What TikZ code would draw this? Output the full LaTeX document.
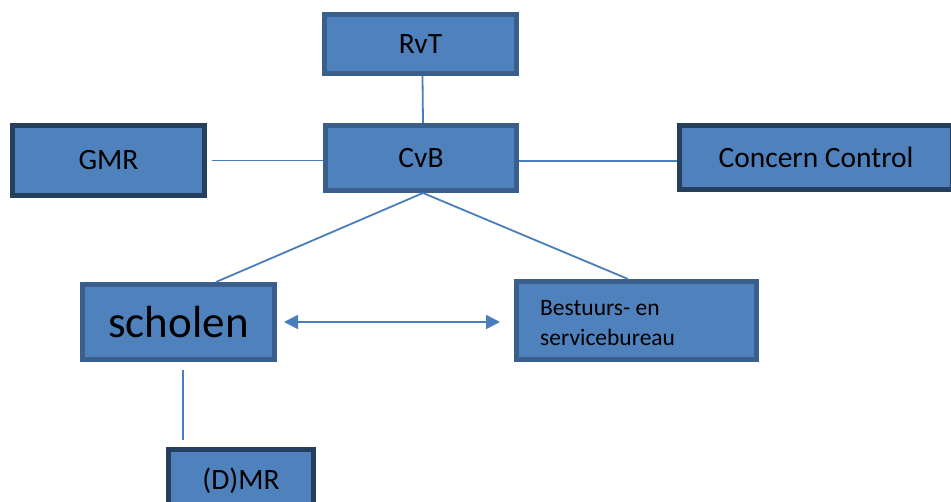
\documentclass[tikz,border=0pt]{standalone}
\usepackage{fontspec}
\setmainfont{Carlito}
\usetikzlibrary{arrows.meta}
\definecolor{boxfill}{HTML}{4F81BD}
\definecolor{boxedge}{HTML}{3A5F8C}
\definecolor{darkedge}{HTML}{253F5F}
\definecolor{linecol}{HTML}{4A7EBB}
\tikzset{
  box/.style={draw=boxedge, fill=boxfill, line width=5pt, inner sep=0pt, font=\fontsize{29.5}{34}\selectfont},
  darkbox/.style={box, draw=darkedge},
  conn/.style={draw=linecol, line width=1.8pt},
}
\begin{document}
\begin{tikzpicture}[x=1pt,y=-1pt]
\useasboundingbox (0,0) rectangle (951,501);
\clip (0,0) rectangle (951,501);
\fill[white] (0,0) rectangle (951,501);
\node[box, minimum width=192pt, minimum height=59pt] (rvt) at (420.5,44) {RvT};
\node[box, minimum width=191pt, minimum height=65pt] (cvb) at (421,158) {CvB};
\node[darkbox, minimum width=192pt, minimum height=70pt] (gmr) at (108.5,160.5) {GMR};
\node[darkbox, minimum width=273pt, minimum height=64pt] (cc) at (816,157.5) {Concern Control};
\node[box, minimum width=192pt, minimum height=75pt, font=\fontsize{45}{52}\selectfont] (scholen) at (178.5,322) {scholen};
\node[box, minimum width=240pt, minimum height=78pt] (bsb) at (636.5,320.5) {};
\node[anchor=west, align=left, inner sep=0pt, font=\fontsize{23.5}{30}\selectfont] (bsbtext) at (540,323) {Bestuurs- en\\servicebureau};
\node[darkbox, minimum width=145pt, minimum height=63pt] (dmr) at (241,481) {(D)MR};
\coordinate (d1) at (183,370);
\coordinate (d2) at (183,440);
\coordinate (a1) at ([xshift=7pt]scholen.east);
\coordinate (a2) at ([xshift=-14pt]scholen.east -| bsb.west);
\path[conn] ([xshift=2pt]rvt.south) -- ([xshift=2pt]cvb.north);
\path[conn] ([xshift=5pt]gmr.east) -- (gmr.east -| cvb.west);
\path[conn] ([yshift=-3pt]cvb.east) -- ([yshift=-3pt]cvb.east -| cc.west);
\path[conn] ([xshift=2pt]cvb.south) -- ([xshift=37.5pt]scholen.north);
\path[conn] ([xshift=2pt]cvb.south) -- ([xshift=-8.5pt]bsb.north);
\path[conn, {Triangle[length=14pt,width=14pt]}-{Triangle[length=14pt,width=14pt]}] (a1) -- (a2);
\path[conn] (d1) -- (d2);
\end{tikzpicture}
\end{document}
